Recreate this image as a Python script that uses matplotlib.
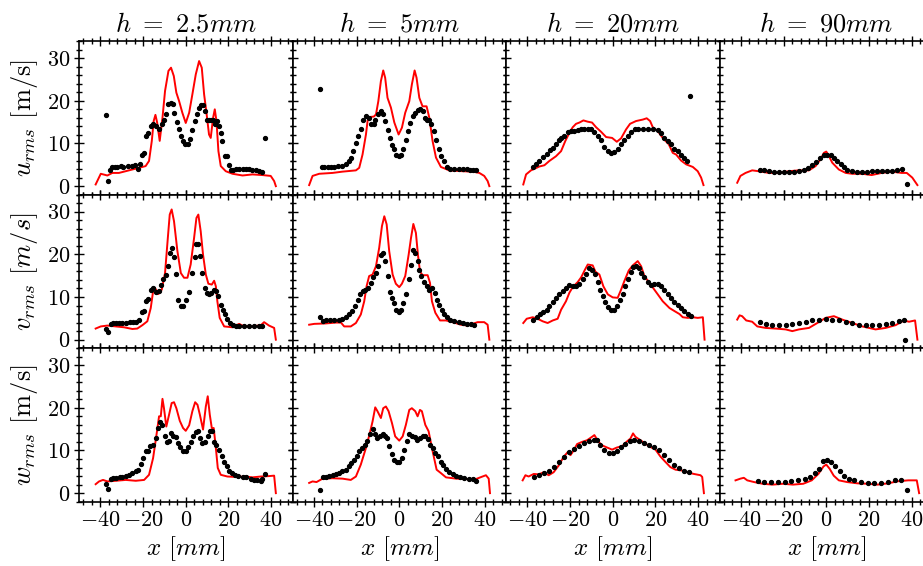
import matplotlib
matplotlib.use("Agg")
import matplotlib.pyplot as plt
from matplotlib.ticker import MultipleLocator, AutoMinorLocator

plt.rcParams.update({
    "mathtext.fontset": "cm",
    "font.family": "serif",
    "font.serif": ["cmr10", "DejaVu Serif"],
    "axes.formatter.use_mathtext": True,
    "axes.unicode_minus": True,
})

heights = ["2.5", "5", "20", "90"]
components = ["u", "v", "w"]

# ---------------- u_rms ----------------
u25_sim_x = [-42.2, -39.8, -36.7, -34.4, -31.3, -26.6, -22.7, -18.8, -17.2, -15.9, -15.0, -14.2, -13.4, -12.2, -10.9, -9.7, -8.1, -6.9, -5.6, -4.4, -3.1, -1.6, 0.0, 1.6, 3.1, 4.7, 6.25, 7.5, 8.6, 9.7, 10.9, 11.7, 12.8, 13.6, 14.4, 15.3, 16.4, 18.75, 21.9, 26.6, 31.25, 35.9, 39.8, 41.4, 42.2]
u25_sim_y = [0.4, 2.9, 2.5, 3.1, 3.1, 3.7, 4.2, 4.7, 5.9, 10.6, 15.3, 16.7, 14.9, 10.6, 16.0, 22.3, 27.0, 27.75, 25.8, 21.9, 19.9, 17.2, 14.8, 17.2, 21.5, 26.2, 29.3, 27.75, 21.5, 17.2, 12.1, 11.3, 16.0, 18.0, 15.2, 8.2, 4.7, 3.5, 2.9, 2.5, 2.75, 2.6, 2.4, 1.2, 0.0]
u25_exp_x = [-37.2, -36.25, -35.5, -34.4, -33.3, -32.0, -30.5, -29.2, -27.0, -25.3, -23.75, -22.2, -21.4, -20.3, -19.4, -18.75, -17.5, -16.4, -15.3, -14.1, -12.5, -11.25, -10.2, -9.4, -8.1, -7.0, -5.9, -5.3, -4.2, -3.1, -2.2, -1.1, -0.3, 0.9, 1.9, 3.1, 4.1, 5.3, 6.25, 7.2, 8.1, 9.1, 10.0, 10.9, 12.0, 12.97, 13.75, 14.8, 15.6, 16.4, 17.2, 18.3, 19.4, 20.3, 21.1, 22.2, 23.4, 25.0, 26.6, 28.1, 29.7, 31.25, 32.8, 34.4, 35.9, 36.9]
u25_exp_y = [16.7, 1.2, 3.9, 4.5, 4.6, 4.6, 4.8, 4.6, 4.7, 4.7, 4.9, 4.1, 5.25, 7.4, 7.8, 11.7, 12.5, 14.1, 14.5, 14.1, 13.3, 14.5, 15.6, 16.8, 19.3, 19.5, 19.3, 17.2, 15.0, 13.3, 11.7, 10.5, 9.8, 9.8, 11.0, 13.1, 15.25, 17.0, 18.4, 19.0, 19.0, 17.6, 15.6, 15.6, 15.6, 15.6, 14.5, 15.25, 14.1, 12.5, 10.6, 7.0, 7.0, 4.9, 3.9, 3.9, 4.1, 4.1, 4.1, 4.1, 4.1, 3.9, 3.7, 3.5, 3.4, 11.3]

u5_sim_x = [-42.2, -40.6, -37.5, -31.25, -26.6, -20.3, -18.75, -17.2, -15.6, -14.8, -13.75, -11.9, -10.9, -9.8, -8.6, -7.5, -6.6, -5.5, -3.9, -2.3, -0.3, 1.25, 2.8, 4.7, 5.9, 7.2, 8.1, 9.4, 10.9, 12.8, 14.1, 15.6, 17.2, 19.5, 23.4, 29.7, 34.4, 37.5, 39.8, 41.4, 42.2]
u5_sim_y = [0.25, 2.4, 2.9, 3.1, 3.4, 3.7, 4.3, 7.4, 12.1, 15.4, 16.2, 16.3, 16.8, 19.9, 24.6, 27.1, 25.4, 20.7, 18.4, 14.9, 12.1, 13.7, 17.2, 19.9, 23.8, 27.1, 25.4, 20.7, 18.7, 18.7, 16.0, 10.6, 6.7, 4.5, 3.7, 3.5, 3.4, 3.1, 2.4, 1.2, 0.0]
u5_exp_x = [-37.2, -36.25, -35.2, -33.6, -32.0, -30.5, -28.9, -26.6, -25.0, -23.75, -22.7, -21.6, -20.3, -19.1, -18.0, -16.9, -15.6, -14.4, -13.1, -12.0, -11.25, -10.0, -8.75, -7.8, -6.7, -5.5, -4.4, -3.4, -2.5, -1.6, -0.3, 0.9, 1.9, 3.1, 4.1, 5.2, 6.25, 7.5, 8.75, 9.7, 10.9, 11.9, 13.0, 14.1, 15.0, 16.1, 17.2, 18.4, 19.5, 20.8, 22.2, 23.75, 25.8, 27.8, 29.7, 31.6, 33.1, 34.7, 35.9]
u5_exp_y = [22.8, 4.5, 4.5, 4.5, 4.6, 4.6, 4.7, 4.7, 5.25, 5.9, 6.7, 8.2, 10.2, 11.7, 13.5, 15.6, 16.4, 15.9, 14.6, 14.6, 15.6, 17.0, 17.6, 17.0, 15.25, 13.1, 11.3, 9.6, 8.6, 7.4, 7.0, 7.4, 8.6, 10.7, 12.9, 14.9, 16.4, 17.2, 17.75, 18.0, 17.6, 16.0, 15.6, 15.6, 14.6, 12.9, 10.7, 8.6, 7.0, 5.9, 4.5, 4.1, 4.0, 4.0, 4.0, 4.0, 3.9, 3.8, 3.7]

u20_sim_x = [-41.9, -40.6, -38.3, -34.4, -32.0, -29.7, -26.6, -24.2, -22.2, -20.3, -18.75, -17.2, -15.6, -13.75, -11.7, -9.7, -7.8, -5.5, -3.1, -0.3, 1.9, 3.9, 6.25, 8.1, 10.9, 14.1, 15.9, 17.5, 18.75, 21.1, 23.4, 26.25, 28.1, 29.7, 32.0, 34.4, 37.5, 39.8, 41.4, 42.5]
u20_sim_y = [0.4, 2.75, 3.7, 4.6, 4.9, 5.9, 7.0, 8.2, 10.6, 12.5, 13.8, 14.6, 14.9, 15.4, 15.1, 14.9, 13.8, 12.75, 11.5, 11.3, 10.4, 11.2, 13.3, 14.6, 15.25, 15.6, 15.9, 15.25, 13.8, 12.9, 11.3, 9.8, 7.8, 7.4, 6.0, 5.1, 4.5, 3.5, 2.0, 0.25]
u20_exp_x = [-37.2, -35.9, -34.4, -32.8, -30.9, -29.4, -27.8, -26.6, -25.3, -24.2, -22.7, -21.1, -19.5, -18.0, -16.4, -14.8, -13.3, -11.7, -10.2, -8.6, -7.0, -5.5, -3.9, -2.3, -0.8, 0.8, 2.3, 3.9, 5.5, 7.0, 8.6, 10.2, 11.7, 14.1, 16.4, 18.75, 21.1, 22.7, 24.2, 25.8, 27.3, 28.9, 30.5, 32.0, 33.6, 34.7, 36.4]
u20_exp_y = [4.5, 5.25, 6.0, 6.8, 7.6, 8.4, 9.0, 9.8, 10.7, 11.3, 11.7, 12.75, 12.9, 12.9, 13.1, 13.3, 13.5, 13.5, 13.3, 12.75, 11.7, 10.7, 9.2, 8.2, 7.8, 8.1, 8.8, 9.8, 10.7, 11.7, 12.75, 13.3, 13.5, 13.3, 13.3, 13.3, 13.1, 12.5, 11.3, 10.6, 9.8, 8.8, 8.2, 7.4, 6.7, 6.0, 21.1]

u90_sim_x = [-41.7, -40.2, -37.8, -34.7, -31.6, -26.9, -22.2, -17.5, -12.8, -8.1, -5.0, -2.7, -1.1, 0.0, 0.9, 2.8, 5.9, 9.1, 12.2, 16.9, 21.25, 25.9, 30.6, 35.3, 37.7, 40.3, 42.7]
u90_sim_y = [0.8, 2.4, 3.1, 3.7, 3.5, 3.1, 3.1, 3.5, 3.7, 3.7, 4.7, 6.3, 7.8, 8.1, 7.4, 5.5, 3.9, 3.1, 2.9, 2.9, 2.6, 3.1, 3.4, 3.1, 3.1, 2.0, 0.25]
u90_exp_x = [-31.25, -29.2, -26.9, -24.5, -22.2, -19.8, -17.5, -15.2, -12.8, -10.5, -8.4, -6.6, -4.7, -2.7, -1.1, 0.5, 2.0, 3.6, 5.2, 6.7, 8.3, 9.8, 12.2, 14.5, 16.9, 19.2, 21.6, 23.9, 26.25, 28.6, 30.9, 33.3, 35.3, 37.8]
u90_exp_y = [3.8, 3.7, 3.5, 3.4, 3.3, 3.2, 3.2, 3.3, 3.5, 3.8, 4.3, 4.9, 5.7, 6.7, 7.3, 7.4, 7.2, 6.7, 6.0, 5.25, 4.5, 3.9, 3.5, 3.4, 3.3, 3.4, 3.5, 3.5, 3.5, 3.5, 3.5, 3.7, 4.1, 0.4]

# ---------------- v_rms ----------------
v25_sim_x = [-42.2, -39.8, -36.7, -32.8, -28.9, -25.0, -22.7, -20.3, -18.0, -16.4, -15.3, -14.4, -12.8, -11.25, -9.7, -8.4, -7.5, -6.6, -5.5, -3.9, -2.3, -0.8, 0.8, 2.3, 3.9, 5.0, 5.9, 7.0, 8.1, 9.4, 10.6, 12.2, 13.3, 14.1, 14.8, 15.9, 18.0, 21.9, 25.0, 27.3, 31.25, 35.2, 36.7, 39.0, 41.4, 42.2]
v25_sim_y = [2.6, 3.1, 3.3, 3.1, 2.9, 2.5, 2.6, 3.4, 4.3, 7.4, 11.3, 12.1, 10.7, 11.7, 15.6, 23.8, 29.3, 30.5, 27.75, 20.7, 15.6, 14.5, 14.5, 17.6, 23.8, 28.5, 29.3, 25.4, 19.9, 15.25, 13.1, 12.9, 13.8, 12.5, 9.0, 5.1, 3.1, 2.9, 3.7, 3.1, 3.1, 3.4, 4.1, 3.3, 2.75, 0.0]
v25_exp_x = [-37.5, -36.25, -35.2, -34.0, -32.8, -31.25, -29.7, -27.8, -26.25, -24.7, -23.1, -21.9, -20.6, -19.5, -18.4, -17.5, -16.25, -15.3, -13.75, -12.5, -11.4, -10.5, -9.4, -8.4, -7.5, -6.6, -5.5, -4.4, -3.4, -2.3, -1.25, 0.0, 1.6, 3.1, 4.1, 5.0, 5.9, 6.9, 7.8, 8.9, 10.0, 10.9, 12.0, 13.1, 14.1, 15.3, 16.4, 17.5, 18.4, 19.5, 20.6, 21.9, 23.4, 25.0, 27.3, 29.7, 32.0, 34.4, 35.9]
v25_exp_y = [2.4, 1.8, 3.7, 3.8, 3.8, 3.9, 3.9, 4.0, 4.1, 4.1, 4.1, 4.7, 6.5, 6.8, 9.0, 9.6, 11.7, 12.0, 11.2, 11.3, 12.75, 14.1, 15.1, 17.2, 20.3, 21.5, 19.3, 15.4, 9.4, 7.8, 7.8, 9.2, 11.2, 15.6, 19.3, 22.4, 22.3, 19.5, 15.6, 12.1, 11.0, 10.7, 11.0, 11.7, 11.3, 10.2, 8.2, 7.0, 5.9, 4.9, 4.0, 3.4, 3.1, 3.1, 3.1, 3.1, 3.1, 3.1, 3.3]

v5_sim_x = [-42.2, -39.8, -34.4, -29.7, -27.3, -25.8, -22.7, -20.3, -18.0, -16.4, -15.3, -14.1, -12.5, -10.9, -9.4, -8.1, -7.0, -5.9, -4.7, -3.1, -1.6, 0.0, 1.25, 2.8, 4.4, 5.5, 6.6, 7.8, 8.75, 9.7, 10.9, 13.3, 14.4, 15.3, 16.9, 19.1, 21.9, 25.0, 28.9, 32.0, 34.4, 36.7, 39.8, 41.4, 42.2]
v5_sim_y = [3.5, 3.7, 3.8, 4.0, 4.0, 3.1, 3.1, 3.9, 5.9, 9.0, 12.5, 14.9, 15.25, 17.2, 21.5, 26.6, 28.9, 27.0, 20.7, 15.25, 13.1, 12.3, 13.1, 14.9, 19.9, 23.8, 27.1, 25.0, 19.9, 16.0, 15.1, 15.1, 13.3, 9.0, 6.3, 4.5, 4.5, 4.1, 3.5, 3.3, 3.7, 4.1, 4.1, 3.5, 0.0]
v5_exp_x = [-37.2, -35.9, -34.4, -32.5, -30.5, -28.4, -26.6, -25.0, -23.4, -21.9, -20.6, -19.4, -18.4, -17.2, -15.9, -14.7, -13.3, -12.2, -10.9, -9.8, -8.6, -7.5, -6.6, -5.5, -4.4, -3.4, -2.5, -1.6, -0.3, 0.9, 1.9, 3.1, 4.4, 5.3, 6.25, 7.5, 8.6, 9.4, 10.3, 11.6, 12.8, 14.1, 15.3, 16.6, 17.7, 18.75, 19.8, 21.1, 22.2, 23.75, 25.8, 27.8, 29.7, 31.7, 33.6, 35.2]
v5_exp_y = [5.3, 4.3, 4.5, 4.5, 4.5, 4.6, 4.9, 5.25, 5.9, 6.7, 7.8, 9.2, 10.6, 11.5, 11.7, 12.0, 13.3, 14.6, 15.6, 17.2, 19.8, 20.3, 18.4, 14.9, 11.2, 9.8, 8.6, 7.0, 6.5, 7.0, 8.6, 10.7, 14.1, 17.6, 21.1, 20.3, 18.5, 16.4, 14.9, 13.5, 12.5, 11.7, 12.0, 11.0, 9.4, 8.2, 7.0, 5.9, 5.25, 4.7, 4.3, 4.1, 3.9, 3.7, 3.7, 3.5]

v20_sim_x = [-41.9, -40.3, -37.5, -35.2, -32.8, -30.5, -28.1, -25.8, -24.2, -21.9, -20.3, -18.75, -16.4, -14.8, -13.0, -11.7, -9.4, -8.1, -6.25, -4.4, -2.3, 0.0, 2.3, 3.9, 5.5, 7.5, 9.4, 11.7, 13.3, 14.8, 17.2, 19.5, 21.1, 23.4, 26.6, 28.9, 31.25, 32.8, 35.2, 37.5, 39.8, 42.2, 43.0]
v20_sim_y = [3.9, 4.9, 5.25, 4.9, 4.3, 3.9, 4.5, 4.9, 7.0, 9.0, 11.0, 12.3, 13.5, 14.6, 16.4, 17.6, 17.4, 15.9, 15.25, 12.5, 10.6, 9.9, 9.8, 11.7, 13.8, 16.2, 17.4, 18.4, 17.2, 14.9, 13.3, 11.7, 10.6, 9.0, 7.4, 6.7, 6.0, 5.25, 5.1, 5.25, 5.1, 5.25, 0.0]
v20_exp_x = [-37.2, -35.6, -34.0, -32.5, -30.9, -29.7, -28.1, -26.6, -25.0, -23.4, -21.9, -20.3, -18.75, -17.2, -15.6, -14.1, -12.5, -10.9, -9.7, -8.4, -7.0, -5.8, -4.7, -3.4, -2.2, -0.8, 0.8, 2.2, 3.4, 4.7, 5.9, 7.2, 8.4, 9.7, 10.9, 12.2, 13.4, 14.8, 16.4, 18.0, 19.5, 21.1, 22.7, 24.2, 25.8, 27.3, 28.9, 30.5, 32.0, 33.6, 35.2, 36.7]
v20_exp_y = [4.7, 5.4, 6.0, 6.5, 7.0, 7.8, 8.8, 9.8, 10.7, 11.5, 12.1, 12.75, 12.5, 12.5, 13.1, 14.1, 15.4, 16.7, 16.4, 15.4, 13.5, 11.7, 10.2, 8.8, 7.6, 7.0, 7.0, 7.8, 9.2, 10.7, 12.5, 14.3, 15.9, 17.0, 17.2, 16.7, 15.6, 14.6, 13.5, 12.9, 13.1, 13.1, 12.5, 11.7, 10.7, 9.8, 8.8, 8.1, 7.3, 6.7, 6.0, 5.5]

v90_sim_x = [-41.7, -40.6, -39.4, -37.5, -34.7, -32.3, -28.4, -23.75, -19.0, -15.9, -12.8, -8.1, -4.2, -0.3, 3.6, 7.5, 12.2, 16.9, 20.0, 23.1, 27.8, 32.5, 36.4, 38.75, 41.6, 42.7]
v90_sim_y = [4.7, 5.7, 5.5, 4.5, 4.2, 3.1, 2.75, 2.6, 2.4, 2.0, 2.4, 2.75, 3.9, 5.1, 5.5, 4.7, 3.9, 3.1, 2.75, 2.4, 2.75, 3.4, 4.5, 4.2, 4.5, 0.0]
v90_exp_x = [-31.25, -28.4, -25.3, -22.2, -19.0, -15.9, -12.8, -9.7, -6.6, -3.4, -0.3, 2.8, 5.9, 9.1, 12.2, 15.3, 18.4, 21.6, 24.7, 27.8, 30.9, 34.0, 36.4, 36.9]
v90_exp_y = [4.2, 3.7, 3.5, 3.4, 3.4, 3.7, 3.9, 4.2, 4.5, 4.7, 4.9, 4.7, 4.5, 4.2, 3.9, 3.5, 3.4, 3.5, 3.5, 3.7, 3.9, 4.3, 4.7, 0.0]

# ---------------- w_rms ----------------
w25_sim_x = [-42.2, -40.6, -38.75, -36.7, -32.8, -28.1, -23.4, -19.5, -17.2, -15.3, -13.75, -12.5, -11.7, -10.9, -10.2, -9.1, -7.8, -6.6, -5.5, -4.4, -2.8, -1.25, 0.0, 1.6, 3.1, 4.4, 5.5, 6.6, 8.1, 9.4, 10.3, 11.25, 12.2, 13.1, 14.1, 15.0, 16.4, 19.5, 23.4, 28.1, 31.25, 35.2, 39.0, 41.4, 42.2]
w25_sim_y = [2.1, 2.75, 3.1, 2.75, 2.9, 3.1, 2.9, 3.1, 4.3, 8.2, 13.5, 18.0, 18.0, 22.1, 19.9, 15.6, 18.4, 21.1, 21.3, 19.9, 16.95, 15.25, 14.6, 15.9, 19.2, 21.3, 20.7, 18.4, 14.9, 20.3, 22.7, 18.4, 15.25, 15.25, 10.6, 5.9, 4.3, 3.9, 3.8, 3.9, 3.7, 3.9, 4.0, 4.1, 0.0]
w25_exp_x = [-37.2, -36.25, -35.2, -34.0, -32.8, -30.9, -29.7, -27.8, -26.6, -25.0, -23.4, -22.2, -20.9, -20.0, -18.75, -17.8, -16.6, -15.3, -14.1, -13.1, -12.2, -10.9, -9.8, -8.9, -7.8, -6.9, -5.8, -4.7, -3.6, -2.5, -1.4, 0.0, 1.25, 2.3, 3.4, 4.7, 5.6, 6.6, 7.8, 9.1, 10.2, 11.25, 12.2, 13.3, 14.4, 15.6, 16.9, 18.0, 19.1, 20.3, 21.6, 23.1, 24.7, 26.6, 28.4, 30.5, 32.0, 33.6, 35.2, 35.9, 36.9]
w25_exp_y = [2.1, 1.0, 3.4, 3.5, 3.5, 3.8, 3.8, 4.1, 4.3, 4.7, 5.25, 5.5, 6.8, 8.2, 9.9, 9.9, 10.95, 11.3, 12.9, 15.25, 16.7, 15.9, 13.5, 12.1, 12.3, 14.1, 13.5, 13.1, 11.7, 10.7, 9.9, 9.9, 10.7, 12.1, 13.5, 14.3, 14.5, 12.9, 11.7, 12.1, 13.5, 14.5, 14.6, 12.0, 11.3, 10.2, 8.6, 7.4, 6.3, 5.1, 4.7, 4.3, 4.1, 3.9, 3.7, 3.4, 3.1, 3.1, 2.9, 3.4, 4.6]

w5_sim_x = [-42.2, -40.6, -38.75, -35.9, -31.25, -26.6, -22.7, -20.3, -18.0, -15.6, -13.75, -12.5, -11.25, -10.2, -8.6, -7.5, -6.25, -5.0, -3.4, -1.9, 0.0, 1.6, 3.1, 4.7, 5.9, 7.5, 8.6, 9.7, 10.6, 12.2, 13.75, 15.3, 17.5, 19.5, 21.9, 26.6, 31.25, 35.9, 39.0, 40.6, 41.9, 42.5]
w5_sim_y = [2.4, 2.75, 2.6, 3.4, 3.5, 3.4, 3.1, 3.9, 6.7, 10.6, 14.1, 16.8, 20.1, 19.2, 17.6, 19.9, 20.3, 19.2, 16.4, 13.3, 12.3, 13.3, 16.0, 19.5, 19.9, 19.2, 18.0, 19.5, 19.2, 16.0, 14.5, 10.6, 5.5, 4.7, 3.7, 3.4, 3.3, 3.3, 3.9, 4.2, 3.4, 0.0]
w5_exp_x = [-37.2, -35.9, -34.4, -32.8, -31.25, -29.7, -28.1, -26.6, -25.0, -23.75, -22.5, -21.25, -20.0, -18.75, -17.5, -16.25, -15.0, -13.75, -12.5, -11.25, -10.2, -9.1, -7.8, -6.9, -5.9, -4.7, -3.4, -2.3, -1.25, 0.0, 1.25, 2.3, 3.4, 4.7, 5.9, 7.2, 8.4, 9.7, 10.9, 12.2, 13.4, 14.5, 15.6, 16.9, 18.1, 19.4, 20.6, 21.9, 23.4, 25.0, 26.6, 28.4, 30.5, 32.5, 34.4, 35.9]
w5_exp_y = [0.8, 3.9, 3.9, 4.1, 4.3, 4.5, 4.7, 5.1, 5.5, 6.3, 7.0, 7.8, 8.8, 9.8, 10.6, 11.2, 12.3, 13.8, 15.1, 13.8, 12.9, 13.5, 13.8, 13.5, 12.9, 11.0, 9.2, 7.8, 7.4, 7.4, 8.2, 10.2, 12.3, 13.8, 13.5, 13.1, 12.5, 12.9, 13.5, 13.3, 12.75, 11.3, 10.6, 9.4, 8.6, 7.4, 6.7, 5.7, 4.9, 4.5, 4.1, 3.9, 3.5, 3.4, 3.4, 2.75]

w20_sim_x = [-42.2, -40.9, -39.4, -37.0, -34.7, -32.3, -30.0, -27.7, -25.3, -23.0, -21.1, -19.8, -18.3, -16.7, -14.4, -12.0, -9.7, -8.6, -6.6, -5.0, -2.7, -0.3, 2.0, 4.4, 6.4, 8.3, 9.5, 10.6, 12.97, 15.3, 17.7, 20.0, 22.3, 24.7, 27.0, 29.4, 32.5, 34.8, 38.0, 41.1, 41.9, 42.7]
w20_sim_y = [3.0, 4.2, 3.9, 4.5, 4.4, 4.9, 4.2, 4.9, 6.5, 8.5, 9.6, 8.9, 10.0, 11.5, 12.0, 12.4, 13.2, 13.6, 12.0, 11.2, 10.7, 10.2, 10.7, 11.0, 12.0, 12.8, 14.0, 13.2, 12.4, 11.6, 10.8, 10.2, 8.6, 7.3, 6.1, 5.5, 5.3, 4.9, 4.5, 4.2, 3.8, 0.0]
w20_exp_x = [-37.0, -34.7, -32.3, -30.0, -27.7, -25.3, -23.0, -20.6, -18.3, -15.9, -13.6, -11.25, -8.9, -7.3, -5.8, -3.9, -1.9, 0.0, 2.0, 3.9, 5.9, 8.0, 9.8, 12.2, 14.5, 16.9, 19.2, 21.6, 23.9, 26.25, 28.6, 30.9, 33.3, 35.6]
w20_exp_y = [3.8, 4.2, 4.7, 5.3, 6.1, 7.3, 8.5, 9.6, 10.4, 11.0, 11.8, 12.2, 12.5, 12.4, 11.2, 10.0, 9.3, 9.3, 9.9, 10.7, 11.5, 12.2, 12.5, 12.2, 11.8, 11.2, 10.7, 10.0, 8.9, 7.8, 6.7, 6.0, 5.3, 4.9]

w90_sim_x = [-42.5, -40.2, -38.6, -37.0, -33.8, -29.8, -25.1, -20.3, -15.6, -10.8, -6.8, -3.7, -1.3, 0.0, 1.6, 3.5, 5.9, 9.8, 14.6, 19.4, 24.1, 28.9, 33.7, 38.4, 42.4, 43.5]
w90_sim_y = [3.0, 3.4, 3.6, 3.0, 2.6, 2.2, 2.0, 2.2, 2.0, 2.2, 3.0, 4.5, 6.25, 6.7, 5.7, 4.1, 3.0, 2.6, 2.3, 2.2, 2.0, 2.3, 2.8, 3.0, 3.0, 0.0]
w90_exp_x = [-32.2, -29.0, -25.9, -22.7, -19.5, -16.3, -13.2, -10.0, -7.6, -5.2, -3.2, -1.3, 0.3, 2.2, 4.3, 6.3, 8.3, 10.6, 13.0, 16.2, 19.4, 22.5, 25.7, 28.9, 32.1, 35.2, 37.9]
w90_exp_y = [2.8, 2.6, 2.6, 2.6, 2.6, 2.8, 3.0, 3.4, 3.9, 4.7, 5.7, 7.5, 7.8, 7.3, 6.25, 5.2, 4.1, 3.4, 3.0, 2.6, 2.3, 2.3, 2.3, 2.6, 3.0, 3.1, 0.8]

sim = {
    ("u", "2.5"): (u25_sim_x, u25_sim_y), ("u", "5"): (u5_sim_x, u5_sim_y),
    ("u", "20"): (u20_sim_x, u20_sim_y), ("u", "90"): (u90_sim_x, u90_sim_y),
    ("v", "2.5"): (v25_sim_x, v25_sim_y), ("v", "5"): (v5_sim_x, v5_sim_y),
    ("v", "20"): (v20_sim_x, v20_sim_y), ("v", "90"): (v90_sim_x, v90_sim_y),
    ("w", "2.5"): (w25_sim_x, w25_sim_y), ("w", "5"): (w5_sim_x, w5_sim_y),
    ("w", "20"): (w20_sim_x, w20_sim_y), ("w", "90"): (w90_sim_x, w90_sim_y),
}
exp = {
    ("u", "2.5"): (u25_exp_x, u25_exp_y), ("u", "5"): (u5_exp_x, u5_exp_y),
    ("u", "20"): (u20_exp_x, u20_exp_y), ("u", "90"): (u90_exp_x, u90_exp_y),
    ("v", "2.5"): (v25_exp_x, v25_exp_y), ("v", "5"): (v5_exp_x, v5_exp_y),
    ("v", "20"): (v20_exp_x, v20_exp_y), ("v", "90"): (v90_exp_x, v90_exp_y),
    ("w", "2.5"): (w25_exp_x, w25_exp_y), ("w", "5"): (w5_exp_x, w5_exp_y),
    ("w", "20"): (w20_exp_x, w20_exp_y), ("w", "90"): (w90_exp_x, w90_exp_y),
}
ylabels = [r"$u_{rms}$ [m/s]", r"$v_{rms}$ $[m/s]$", r"$w_{rms}$ [m/s]"]

W, H = 923, 566
fig = plt.figure(figsize=(W / 100, H / 100), dpi=100)
col_left = [79, 292.5, 506, 719.5]
col_w = 213.5
row_top = [41, 194.5, 348]
row_h = 153.7

for r, comp in enumerate(components):
    for c, h in enumerate(heights):
        ax = fig.add_axes([col_left[c] / W, 1 - (row_top[r] + row_h) / H,
                           col_w / W, row_h / H])
        sx, sy = sim[(comp, h)]
        ex, ey = exp[(comp, h)]
        ax.plot(sx, sy, color="#ff0000", lw=1.4, zorder=2)
        ax.plot(ex, ey, ls="none", marker="o", ms=2.8, color="black",
                mec="black", zorder=3)
        ax.set_xlim(-50, 50)
        ax.set_ylim(-2, 34)
        ax.xaxis.set_major_locator(MultipleLocator(20))
        ax.yaxis.set_major_locator(MultipleLocator(10))
        ax.xaxis.set_minor_locator(AutoMinorLocator(5))
        ax.yaxis.set_minor_locator(AutoMinorLocator(5))
        ax.tick_params(which="both", direction="inout", top=True, right=True,
                       labelsize=16, width=1.0)
        ax.tick_params(which="major", length=7, pad=3)
        ax.tick_params(which="minor", length=4)
        for sp in ax.spines.values():
            sp.set_linewidth(1.2)
        if c != 0:
            ax.tick_params(labelleft=False)
        else:
            ax.set_ylabel(ylabels[r], fontsize=19, labelpad=5)
        if r != 2:
            ax.tick_params(labelbottom=False)
        else:
            ax.set_xlabel(r"$x$ $[mm]$", fontsize=18, labelpad=3)
        if r == 0:
            ax.set_title(r"$h\ =\ %smm$" % h, fontsize=19, pad=7)

fig.savefig("out.png", dpi=100)
